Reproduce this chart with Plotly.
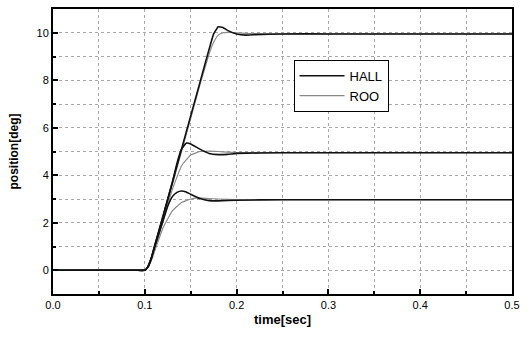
import plotly.graph_objects as go

# HALL sensor responses (overshooting)
t_hall_10 = [0, 0.05, 0.090, 0.100, 0.103, 0.107, 0.112, 0.120, 0.130, 0.140, 0.150, 0.160, 0.170, 0.175, 0.180, 0.185, 0.190, 0.200, 0.210, 0.220, 0.250, 0.300, 0.400, 0.500]
v_hall_10 = [0, 0, 0, 0, 0.12, 0.5, 1.2, 2.3, 3.7, 5.1, 6.5, 7.9, 9.3, 9.95, 10.25, 10.22, 10.1, 9.95, 9.9, 9.92, 9.95, 9.95, 9.95, 9.95]
t_hall_5 = [0, 0.05, 0.090, 0.100, 0.103, 0.107, 0.112, 0.120, 0.130, 0.135, 0.140, 0.145, 0.150, 0.160, 0.170, 0.180, 0.190, 0.200, 0.250, 0.300, 0.400, 0.500]
v_hall_5 = [0, 0, 0, 0, 0.12, 0.5, 1.2, 2.3, 3.7, 4.5, 5.1, 5.35, 5.32, 5.1, 4.92, 4.87, 4.88, 4.92, 4.95, 4.95, 4.95, 4.95]
t_hall_3 = [0, 0.05, 0.090, 0.100, 0.103, 0.107, 0.112, 0.120, 0.125, 0.130, 0.135, 0.140, 0.145, 0.150, 0.160, 0.170, 0.180, 0.200, 0.250, 0.300, 0.400, 0.500]
v_hall_3 = [0, 0, 0, 0, 0.12, 0.5, 1.15, 2.1, 2.7, 3.1, 3.28, 3.34, 3.3, 3.2, 3.02, 2.93, 2.92, 2.95, 2.97, 2.97, 2.97, 2.97]

# ROO responses (smooth)
t_roo_10 = [0, 0.05, 0.090, 0.100, 0.103, 0.107, 0.112, 0.120, 0.130, 0.140, 0.150, 0.160, 0.170, 0.175, 0.180, 0.185, 0.190, 0.200, 0.210, 0.220, 0.250, 0.300, 0.400, 0.500]
v_roo_10 = [0, 0, 0, 0, 0.1, 0.42, 1.05, 2.2, 3.6, 5.0, 6.4, 7.8, 9.1, 9.6, 9.9, 10.0, 10.02, 10.0, 9.97, 9.96, 9.95, 9.95, 9.95, 9.95]
t_roo_5 = [0, 0.05, 0.090, 0.100, 0.103, 0.107, 0.112, 0.120, 0.130, 0.140, 0.150, 0.160, 0.170, 0.180, 0.190, 0.200, 0.250, 0.300, 0.400, 0.500]
v_roo_5 = [0, 0, 0, 0, 0.1, 0.42, 1.0, 2.1, 3.4, 4.4, 4.85, 5.0, 5.02, 5.0, 4.97, 4.95, 4.95, 4.95, 4.95, 4.95]
t_roo_3 = [0, 0.05, 0.090, 0.100, 0.103, 0.107, 0.112, 0.120, 0.130, 0.140, 0.150, 0.160, 0.170, 0.180, 0.200, 0.250, 0.300, 0.400, 0.500]
v_roo_3 = [0, 0, 0, 0, 0.1, 0.4, 0.95, 1.8, 2.5, 2.85, 3.0, 3.05, 3.02, 3.0, 2.97, 2.97, 2.97, 2.97, 2.97]

x_tickvals = [0.0, 0.1, 0.2, 0.3, 0.4, 0.5]
y_tickvals = [0, 2, 4, 6, 8, 10]

hall_color = "#111111"
roo_color = "#8a8a8a"

fig = go.Figure()
for t, v in [(t_roo_10, v_roo_10), (t_roo_5, v_roo_5), (t_roo_3, v_roo_3)]:
    fig.add_trace(go.Scatter(x=t, y=v, mode="lines", line=dict(color=roo_color, width=1.2, shape="spline", smoothing=0.3),
                             name="ROO", showlegend=False))
for i, (t, v) in enumerate([(t_hall_10, v_hall_10), (t_hall_5, v_hall_5), (t_hall_3, v_hall_3)]):
    fig.add_trace(go.Scatter(x=t, y=v, mode="lines", line=dict(color=hall_color, width=1.6, shape="spline", smoothing=0.3),
                             name="HALL", showlegend=(i == 0)))
# legend entry for ROO (after HALL)
fig.add_trace(go.Scatter(x=[None], y=[None], mode="lines", line=dict(color=roo_color, width=1.2), name="ROO"))

font_family = "Liberation Sans, Arial, sans-serif"
axis_common = dict(
    showline=True, linecolor="black", linewidth=2, mirror=True,
    ticks="inside", ticklen=5, tickwidth=2, tickcolor="black",
    showgrid=True, gridcolor="#a8a8a8", griddash="dot", gridwidth=1,
    zeroline=False,
    tickfont=dict(family=font_family, size=11, color="black"),
)
fig.update_layout(
    width=527, height=338,
    margin=dict(l=53, r=12, t=7, b=44),
    paper_bgcolor="white", plot_bgcolor="white",
    font=dict(family=font_family, color="black"),
    showlegend=True,
    legend=dict(x=0.524, y=0.822, xanchor="left", yanchor="top",
                bgcolor="white", bordercolor="black", borderwidth=1,
                font=dict(family=font_family, size=13), tracegroupgap=0,
                itemwidth=45),
    xaxis=dict(range=[0, 0.5], tickvals=x_tickvals, ticktext=[f"{v:.1f}" for v in x_tickvals],
               title=dict(text="<b>time[sec]</b>", font=dict(size=13), standoff=5),
               minor=dict(dtick=0.05, tick0=0, ticks="inside", ticklen=3, tickcolor="black",
                          showgrid=True, gridcolor="#a8a8a8", griddash="dot"),
               **axis_common),
    yaxis=dict(range=[-1, 11], tickvals=y_tickvals,
               title=dict(text="<b>position[deg]</b>", font=dict(size=12), standoff=15),
               minor=dict(dtick=1, tick0=0, ticks="inside", ticklen=3, tickcolor="black",
                          showgrid=True, gridcolor="#a8a8a8", griddash="dot"),
               **axis_common),
)

fig.write_html("out.html")
